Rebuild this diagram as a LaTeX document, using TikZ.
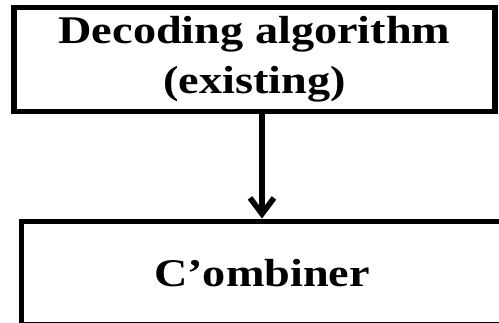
\documentclass[tikz,border=0pt]{standalone}
\usepackage{fontspec}
\setmainfont{Liberation Serif}[FakeStretch=1.18]
\usetikzlibrary{arrows.meta,positioning,calc}

\begin{document}
\begin{tikzpicture}[x=0.5pt,y=-0.5pt,
    >={Straight Barb[length=8pt,width=12pt]},
    blk/.style={draw,line width=2.7pt,minimum width=240.5pt,minimum height=51.75pt,
      align=center,font=\bfseries\fontsize{19.6pt}{25pt}\selectfont}]
  \clip (0,0) rectangle (499,322);
  \node[blk] (dec) at (254.5,59.5) {Decoding algorithm\\(existing)};
  \node[blk] (comb) at (262,273) {C'ombiner};
  \draw[->,line width=2.8pt] (dec.south -| comb.north)--(comb.north);
\end{tikzpicture}
\end{document}
